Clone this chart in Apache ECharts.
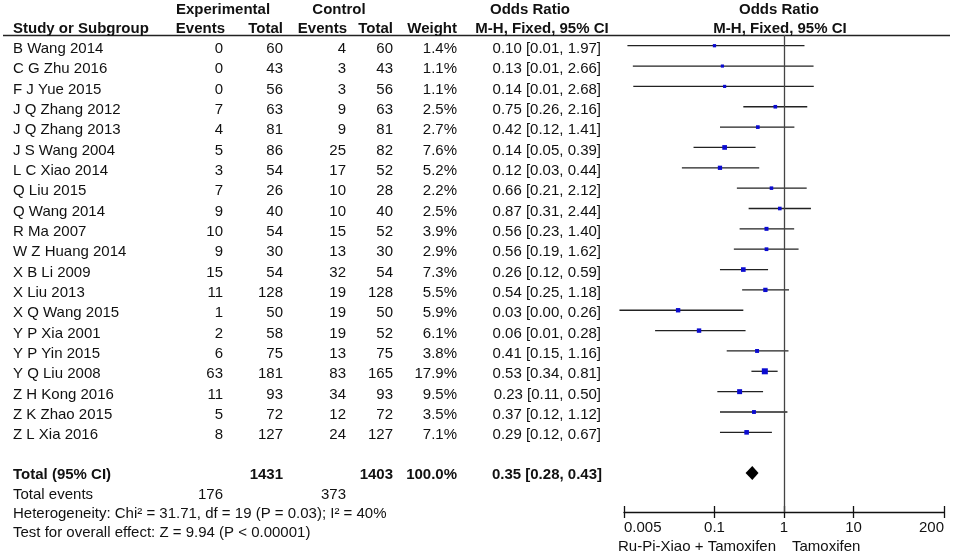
<!DOCTYPE html>
<html>
<head>
<meta charset="utf-8">
<script src="https://cdn.jsdelivr.net/npm/echarts@6/dist/echarts.min.js"></script>
<style>
  html, body { margin: 0; padding: 0; background: #fff; }
  #chart { width: 964px; height: 555px; }
</style>
</head>
<body>
<div id="chart"></div>
<script>
// 研究名称
const studies = [
  'B Wang 2014', 'C G Zhu 2016', 'F J Yue 2015', 'J Q Zhang 2012', 'J Q Zhang 2013',
  'J S Wang 2004', 'L C Xiao 2014', 'Q Liu 2015', 'Q Wang 2014', 'R Ma 2007',
  'W Z Huang 2014', 'X B Li 2009', 'X Liu 2013', 'X Q Wang 2015', 'Y P Xia 2001',
  'Y P Yin 2015', 'Y Q Liu 2008', 'Z H Kong 2016', 'Z K Zhao 2015', 'Z L Xia 2016'
]
const expEvents = [0, 0, 0, 7, 4, 5, 3, 7, 9, 10, 9, 15, 11, 1, 2, 6, 63, 11, 5, 8]
const expTotal = [60, 43, 56, 63, 81, 86, 54, 26, 40, 54, 30, 54, 128, 50, 58, 75, 181, 93, 72, 127]
const ctrlEvents = [4, 3, 3, 9, 9, 25, 17, 10, 10, 15, 13, 32, 19, 19, 19, 13, 83, 34, 12, 24]
const ctrlTotal = [60, 43, 56, 63, 81, 82, 52, 28, 40, 52, 30, 54, 128, 50, 52, 75, 165, 93, 72, 127]
const weights = [1.4, 1.1, 1.1, 2.5, 2.7, 7.6, 5.2, 2.2, 2.5, 3.9, 2.9, 7.3, 5.5, 5.9, 6.1, 3.8, 17.9, 9.5, 3.5, 7.1]
// 比值比及95%置信区间
const orVal = [0.10, 0.13, 0.14, 0.75, 0.42, 0.14, 0.12, 0.66, 0.87, 0.56, 0.56, 0.26, 0.54, 0.03, 0.06, 0.41, 0.53, 0.23, 0.37, 0.29]
const ciLow = [0.0056, 0.0067, 0.0068, 0.26, 0.12, 0.05, 0.034, 0.21, 0.31, 0.23, 0.19, 0.12, 0.25, 0.0043, 0.014, 0.15, 0.34, 0.11, 0.12, 0.12]
const ciHigh = [1.97, 2.66, 2.68, 2.16, 1.41, 0.39, 0.44, 2.12, 2.44, 1.40, 1.62, 0.59, 1.18, 0.26, 0.28, 1.16, 0.81, 0.50, 1.12, 0.67]
// 合计
const totalOr = [0.35, 0.28, 0.43]
const totalCounts = ['1431', '1403', '100.0%']
const totalEvents = ['176', '373']
// 刻度
const tickValues = [0.005, 0.1, 1, 10, 200]
const tickLabels = ['0.005', '0.1', '1', '10', '200']

const FONT = '"Liberation Sans", Arial, sans-serif'
const ROW0 = 45.7
const STEP = 20.35
const TOP = 35
const AXIS_Y = 512
const yMin = (TOP - ROW0) / STEP
const yMax = (AXIS_Y - ROW0) / STEP

const txt = (x, y, text, align, bold) => ({
  type: 'text', x: x, y: y,
  style: {
    text: text, font: (bold ? 'bold ' : '') + '15px ' + FONT,
    fill: '#111', align: align, verticalAlign: 'middle'
  }
})

// 找最近的刻度文字
const tickText = v => {
  let best = 0
  tickValues.forEach((t, k) => {
    if (Math.abs(Math.log10(t) - Math.log10(v)) < Math.abs(Math.log10(tickValues[best]) - Math.log10(v))) best = k
  })
  return tickLabels[best]
}

const chart = echarts.init(document.getElementById('chart'))

const option = {
  animation: false,
  backgroundColor: '#fff',
  grid: { left: 624, right: 20, top: TOP, bottom: 555 - AXIS_Y },
  xAxis: [
    {
      type: 'log', logBase: 10, min: 0.005, max: 200, position: 'bottom',
      axisLine: { onZero: false, lineStyle: { color: '#111', width: 1.3 } },
      axisTick: { customValues: tickValues, length: 6, lineStyle: { color: '#111', width: 1.3 } },
      axisLabel: {
        customValues: tickValues, margin: 8, fontSize: 15, color: '#111', fontFamily: FONT,
        alignMinLabel: 'left', alignMaxLabel: 'right',
        formatter: v => tickText(v)
      },
      splitLine: { show: false }
    },
    {
      type: 'log', logBase: 10, min: 0.005, max: 200, position: 'bottom', offset: 0,
      axisLine: { show: false, onZero: false },
      axisTick: { customValues: tickValues, inside: true, length: 6, lineStyle: { color: '#111', width: 1.3 } },
      axisLabel: { show: false },
      splitLine: { show: false }
    }
  ],
  yAxis: {
    type: 'value', inverse: true, min: yMin, max: yMax,
    axisLine: { show: false, onZero: false }, axisTick: { show: false },
    axisLabel: { show: false }, splitLine: { show: false }
  },
  graphic: [
    { type: 'line', shape: { x1: 3, y1: 35.5, x2: 950, y2: 35.5 }, style: { stroke: '#222', lineWidth: 1.3 } },
    txt(223, 10, 'Experimental', 'center', true),
    txt(339, 10, 'Control', 'center', true),
    txt(530, 10, 'Odds Ratio', 'center', true),
    txt(779, 10, 'Odds Ratio', 'center', true),
    txt(13, 29, 'Study or Subgroup', 'left', true),
    txt(225, 29, 'Events', 'right', true),
    txt(283, 29, 'Total', 'right', true),
    txt(347, 29, 'Events', 'right', true),
    txt(393, 29, 'Total', 'right', true),
    txt(457, 29, 'Weight', 'right', true),
    txt(542, 29, 'M-H, Fixed, 95% CI', 'center', true),
    txt(780, 29, 'M-H, Fixed, 95% CI', 'center', true),
    txt(13, 475, 'Total (95% CI)', 'left', true),
    txt(283, 475, totalCounts[0], 'right', true),
    txt(393, 475, totalCounts[1], 'right', true),
    txt(457, 475, totalCounts[2], 'right', true),
    txt(602, 475, totalOr[0].toFixed(2) + ' [' + totalOr[1].toFixed(2) + ', ' + totalOr[2].toFixed(2) + ']', 'right', true),
    txt(13, 495, 'Total events', 'left'),
    txt(223, 495, totalEvents[0], 'right'),
    txt(346, 495, totalEvents[1], 'right'),
    txt(13, 514, 'Heterogeneity: Chi² = 31.71, df = 19 (P = 0.03); I² = 40%', 'left'),
    txt(13, 533, 'Test for overall effect: Z = 9.94 (P < 0.00001)', 'left'),
    txt(776, 547, 'Ru-Pi-Xiao + Tamoxifen', 'right'),
    txt(792, 547, 'Tamoxifen', 'left')
  ],
  series: [
    {
      // 表格文字
      type: 'custom', clip: false, silent: true,
      data: studies.map((s, i) => [1, i]),
      renderItem: (params, api) => {
        const i = api.value(1)
        const y = api.coord([1, i])[1] + 3
        const ci = orVal[i].toFixed(2) + ' [' + ciLow[i].toFixed(2) + ', ' + ciHigh[i].toFixed(2) + ']'
        return {
          type: 'group',
          children: [
            txt(13, y, studies[i], 'left'),
            txt(223, y, String(expEvents[i]), 'right'),
            txt(283, y, String(expTotal[i]), 'right'),
            txt(346, y, String(ctrlEvents[i]), 'right'),
            txt(393, y, String(ctrlTotal[i]), 'right'),
            txt(457, y, weights[i].toFixed(1) + '%', 'right'),
            txt(601, y, ci, 'right')
          ]
        }
      }
    },
    {
      // 森林图
      type: 'custom', clip: false, silent: true,
      data: studies.map((s, i) => [orVal[i], ciLow[i], ciHigh[i], i]),
      encode: { x: [0, 1, 2], y: 3 },
      renderItem: (params, api) => {
        const i = api.value(3)
        const lo = api.coord([api.value(1), i])
        const hi = api.coord([api.value(2), i])
        const pt = api.coord([api.value(0), i])
        const s = 2.2 + 0.9 * Math.sqrt(weights[i])
        return {
          type: 'group',
          children: [
            { type: 'line', shape: { x1: lo[0], y1: lo[1], x2: hi[0], y2: hi[1] }, style: { stroke: '#222', lineWidth: 1.3 } },
            { type: 'rect', shape: { x: pt[0] - s / 2, y: pt[1] - s / 2, width: s, height: s }, style: { fill: '#0b0bd0' } }
          ]
        }
      },
      markLine: {
        silent: true, symbol: 'none', label: { show: false },
        lineStyle: { color: '#444', width: 1.3, type: 'solid' },
        data: [{ xAxis: 1 }]
      }
    },
    {
      // 合计菱形
      type: 'custom', clip: false, silent: true,
      data: [[totalOr[0], totalOr[1], totalOr[2], 21]],
      encode: { x: [0, 1, 2], y: 3 },
      renderItem: (params, api) => {
        const c = api.coord([api.value(0), api.value(3)])
        const lo = api.coord([api.value(1), api.value(3)])
        const hi = api.coord([api.value(2), api.value(3)])
        return {
          type: 'polygon',
          shape: { points: [[lo[0], c[1]], [c[0], c[1] - 7], [hi[0], c[1]], [c[0], c[1] + 7]] },
          style: { fill: '#000' }
        }
      }
    }
  ]
}

chart.setOption(option)
</script>
</body>
</html>
